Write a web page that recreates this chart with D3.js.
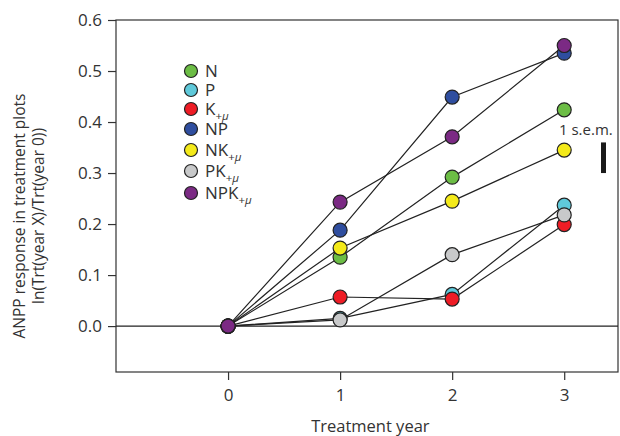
<!DOCTYPE html>
<html>
<head>
<meta charset="utf-8">
<style>
  body { margin: 0; background: #fff; }
  svg text { font-family: "Open Sans", "DejaVu Sans", sans-serif; fill: #333; }
</style>
</head>
<body>
<div id="chart"></div>
<script src="https://d3js.org/d3.v7.min.js"></script>
<script>
const years = [0, 1, 2, 3];
const seriesNames = ['N', 'P', 'K', 'NP', 'NK', 'PK', 'NPK'];
const subMu = [false, false, true, false, true, true, true];
const colors = ['#6cbd45', '#5fc9da', '#ee1c25', '#2f4e9f', '#f4ea1a', '#c8c9ca', '#7b2a84'];
const valN   = [0, 0.135, 0.292, 0.424];
const valP   = [0, 0.015, 0.062, 0.237];
const valK   = [0, 0.057, 0.053, 0.199];
const valNP  = [0, 0.188, 0.449, 0.535];
const valNK  = [0, 0.153, 0.245, 0.345];
const valPK  = [0, 0.012, 0.140, 0.218];
const valNPK = [0, 0.243, 0.371, 0.550];
const yTicks = [0, 0.1, 0.2, 0.3, 0.4, 0.5, 0.6];
const semSize = 0.06;

const allVals = [valN, valP, valK, valNP, valNK, valPK, valNPK];
const series = seriesNames.map((n, i) => ({ name: n, mu: subMu[i], color: colors[i], values: allVals[i] }));

const width = 620, height = 436;
const margin = { top: 20, right: 2, bottom: 64, left: 116 };

const svg = d3.select('#chart').append('svg')
  .attr('width', width).attr('height', height);

const x = d3.scaleLinear().domain([-1, 3.48]).range([margin.left, width - margin.right]);
const y = d3.scaleLinear().domain([-0.09, 0.6]).range([height - margin.bottom, margin.top]);

// frame
svg.append('rect')
  .attr('x', margin.left).attr('y', margin.top)
  .attr('width', width - margin.right - margin.left)
  .attr('height', height - margin.bottom - margin.top)
  .attr('fill', 'none').attr('stroke', '#333').attr('stroke-width', 1.2);

// axes
const yAxis = svg.append('g')
  .attr('transform', `translate(${margin.left},0)`)
  .call(d3.axisLeft(y).tickValues(yTicks).tickFormat(d3.format('.1f')).tickSize(8).tickPadding(6));
const xAxis = svg.append('g')
  .attr('transform', `translate(0,${height - margin.bottom})`)
  .call(d3.axisBottom(x).tickValues(years).tickFormat(d3.format('d')).tickSize(8).tickPadding(9));
[xAxis, yAxis].forEach(g => {
  g.select('.domain').remove();
  g.selectAll('line').attr('stroke', '#333').attr('stroke-width', 1.2);
  g.selectAll('text').attr('font-size', 17).attr('fill', '#333')
    .style('font-family', '"Open Sans", "DejaVu Sans", sans-serif');
});

// zero line
svg.append('line')
  .attr('x1', margin.left).attr('x2', width - margin.right)
  .attr('y1', y(0)).attr('y2', y(0))
  .attr('stroke', '#222').attr('stroke-width', 1.2);

// axis labels
svg.append('text')
  .attr('x', x(1.27)).attr('y', 432)
  .attr('text-anchor', 'middle').attr('font-size', 16.5)
  .text('Treatment year');
const yl = svg.append('text')
  .attr('transform', `translate(25,216) rotate(-90)`)
  .attr('text-anchor', 'middle').attr('font-size', 15.5);
yl.append('tspan').attr('x', 0).attr('dy', 0).text('ANPP response in treatment plots');
yl.append('tspan').attr('x', 0).attr('dy', 19).text('ln(Trt(year X)/Trt(year 0))');

// lines
const line = d3.line().x((d, i) => x(years[i])).y(d => y(d));
svg.append('g').selectAll('path').data(series).join('path')
  .attr('d', d => line(d.values))
  .attr('fill', 'none').attr('stroke', '#222').attr('stroke-width', 1.2);

// points
svg.append('g').selectAll('g').data(series).join('g')
  .attr('fill', d => d.color)
  .selectAll('circle').data(d => d.values).join('circle')
  .attr('cx', (d, i) => x(years[i])).attr('cy', d => y(d))
  .attr('r', 7).attr('stroke', '#222').attr('stroke-width', 1.2);

// legend
const legY = [71, 90, 109, 129, 150, 171, 193];
const leg = svg.append('g').selectAll('g').data(series).join('g')
  .attr('transform', (d, i) => `translate(191,${legY[i]})`);
leg.append('circle').attr('r', 6.5).attr('fill', d => d.color)
  .attr('stroke', '#222').attr('stroke-width', 1.2);
const lt = leg.append('text').attr('x', 14).attr('y', 6).attr('font-size', 17);
lt.append('tspan').text(d => d.name);
const sub = lt.filter(d => d.mu).append('tspan')
  .attr('font-size', 11.5).attr('dy', 5).text('+');
sub.append('tspan').attr('font-style', 'italic').text('μ');

// s.e.m. bar
svg.append('text').attr('x', 559).attr('y', 135).attr('font-size', 15).text('1 s.e.m.');
svg.append('rect')
  .attr('x', 601).attr('width', 5)
  .attr('y', y(0.3 + semSize)).attr('height', y(0.3) - y(0.3 + semSize))
  .attr('fill', '#1a1a1a');
</script>
</body>
</html>
